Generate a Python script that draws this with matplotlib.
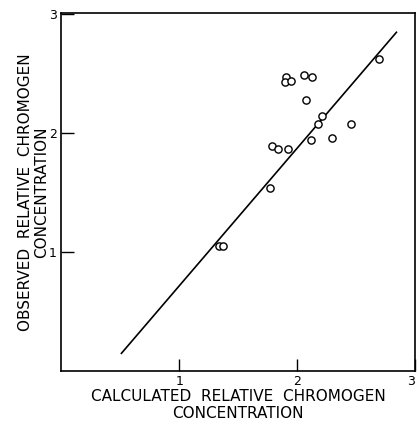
import matplotlib
matplotlib.use("Agg")
import matplotlib.pyplot as plt

calc = [1.907, 1.895, 1.949, 2.056, 2.122, 2.071, 2.212, 2.172, 2.459, 2.113,
        2.291, 1.788, 1.841, 1.920, 1.771, 1.340, 1.368, 2.688]
obs = [2.472, 2.430, 2.441, 2.491, 2.468, 2.281, 2.140, 2.078, 2.072, 1.939,
       1.962, 1.887, 1.868, 1.868, 1.539, 1.053, 1.053, 2.626]
line_x = [0.507, 2.844]
line_y = [0.141, 2.853]
ticks = [1, 2, 3]
tick_labels = ["1", "2", "3"]

fig = plt.figure(figsize=(4.17, 4.24), dpi=100)
ax = fig.add_axes([61 / 417, 53.3 / 424, (415.4 - 61) / 417, (370.7 - 13) / 424])
ax.plot(line_x, line_y, color="black", lw=1.2, solid_capstyle="butt")
ax.plot(calc, obs, linestyle="none", marker="o", markersize=5.2,
        markerfacecolor="white", markeredgecolor="black", markeredgewidth=1.0)
ax.set_xlim(0, 3)
ax.set_ylim(0, 3.01)
ax.set_xticks(ticks)
ax.set_xticklabels(tick_labels)
ax.set_yticks(ticks)
ax.set_yticklabels(tick_labels)
ax.tick_params(direction="in", length=9, width=1.0, labelsize=9, pad=3)
ax.get_xticklabels()[-1].set_horizontalalignment("right")
for s in ax.spines.values():
    s.set_linewidth(1.2)
ax.set_xlabel("CALCULATED  RELATIVE  CHROMOGEN\nCONCENTRATION", fontsize=11,
              linespacing=1.12, labelpad=1)
ax.set_ylabel("OBSERVED  RELATIVE  CHROMOGEN\nCONCENTRATION", fontsize=11,
              linespacing=1.12, labelpad=0)
fig.savefig("out.png", dpi=100)
